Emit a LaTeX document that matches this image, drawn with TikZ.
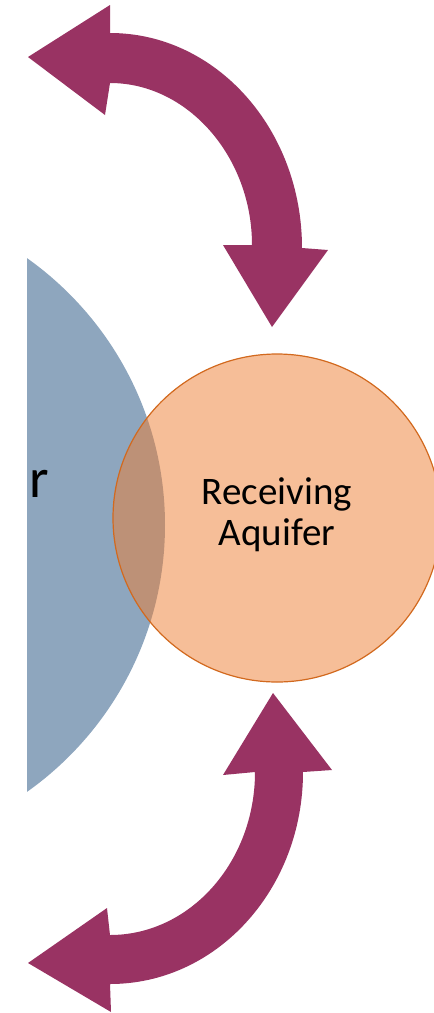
\documentclass[tikz,border=0pt]{standalone}
\usepackage{fontspec}
\setmainfont{Carlito}
\definecolor{arrowpurple}{HTML}{993363}
\definecolor{bluezone}{HTML}{8EA6BE}
\definecolor{orangefill}{HTML}{ED7D31}
\definecolor{orangeline}{HTML}{D2691E}
\tikzset{
  bigarrow/.style={fill=arrowpurple, draw=none},
  aquifer/.style={circle, minimum size=328pt, inner sep=0pt, fill=orangefill, fill opacity=0.5, draw=orangeline, draw opacity=1, line width=1.2pt},
  labeltext/.style={font=\fontsize{39}{41}\selectfont, align=center, text=black, inner sep=0pt},
  bigtext/.style={font=\fontsize{56}{60}\selectfont, text=black, inner sep=0pt}
}
\begin{document}
\begin{tikzpicture}[x=1pt,y=-1pt]
\useasboundingbox (0,0) rectangle (434,1013);
% blue zone (partially cut off)
\begin{scope}
  \clip (27,0) rectangle (434,1013);
  \fill[bluezone] (-162,525) circle[radius=327pt];
\end{scope}
\node[bigtext, anchor=base west] (src) at (29,497) {r};
% receiving aquifer
\node[aquifer] (aq) at (277,518) {};
\node[labeltext] (aqlabel) at (277,514.5) {Receiving\\Aquifer};
% top curved double arrow
\fill[bigarrow] (28,57) -- (110,5) -- (110,33)
  .. controls (216,33) and (302,129) .. (302,248)
  -- (328,250) -- (272,327) -- (223,245) -- (252,245)
  .. controls (252,157) and (188,83) .. (110,83)
  -- (105,115) -- cycle;
% bottom curved double arrow
\fill[bigarrow] (273,693) -- (332,770) -- (303,772)
  .. controls (303,889) and (217,984) .. (110,984)
  -- (111,1012) -- (28,963) -- (107,908) -- (110,935)
  .. controls (190,935) and (255,862) .. (255,772)
  -- (223,775) -- cycle;
\end{tikzpicture}
\end{document}
